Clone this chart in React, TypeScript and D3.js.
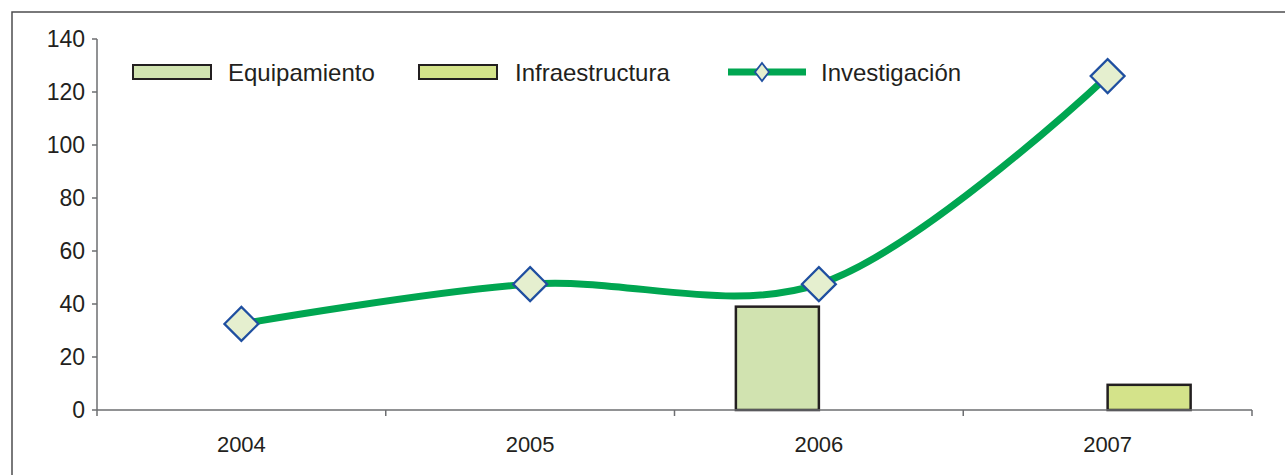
import React from "react";
import * as d3 from "d3";

const years = ["2004", "2005", "2006", "2007"];
const equipamiento: (number | null)[] = [null, null, 39, null];
const infraestructura: (number | null)[] = [null, null, null, 9.5];
const investigacion = [32.5, 47.5, 47.5, 126];
const yTicks = [0, 20, 40, 60, 80, 100, 120, 140];
const seriesNames = ["Equipamiento", "Infraestructura", "Investigación"];

const W = 1285;
const H = 475;
const FONT = "'Liberation Sans', Arial, Helvetica, sans-serif";
const AXIS = "#6d6e71";
const GREEN = "#00a651";
const BLUE = "#1f4fa0";
const EQ_FILL = "#d1e3b0";
const INF_FILL = "#d4e38a";
const DIAMOND_FILL = "#e5efcf";

export default function App() {
  const x = d3.scaleBand<string>().domain(years).range([97, 1252]).padding(0);
  const y = d3.scaleLinear().domain([0, 140]).range([410, 39]);
  const sub = d3
    .scaleBand<string>()
    .domain(["Equipamiento", "Infraestructura"])
    .range([-83, 83]);

  const cx = (yr: string) => (x(yr) as number) + x.bandwidth() / 2;

  const line = d3
    .line<number>()
    .x((_, i) => cx(years[i]))
    .y((d) => y(d))
    .curve(d3.curveCatmullRom.alpha(0.5));

  const diamond = (px: number, py: number, rx: number, ry: number) =>
    `M${px},${py - ry}L${px + rx},${py}L${px},${py + ry}L${px - rx},${py}Z`;

  const bars: { key: string; yr: string; v: number; fill: string }[] = [];
  years.forEach((yr, i) => {
    const e = equipamiento[i];
    if (e != null) bars.push({ key: "Equipamiento", yr, v: e, fill: EQ_FILL });
    const f = infraestructura[i];
    if (f != null) bars.push({ key: "Infraestructura", yr, v: f, fill: INF_FILL });
  });

  const boundaries = years.map((yr) => x(yr) as number).concat([1252]);

  return (
    <svg
      width={W}
      height={H}
      style={{ position: "absolute", left: 0, top: 0, background: "#fff" }}
      fontFamily={FONT}
    >
      {/* frame */}
      <path d={`M12,${H}L12,12L${W},12`} fill="none" stroke="#4d4d4f" strokeWidth={1.5} />

      {/* bars */}
      {bars.map((b, i) => {
        const bx = cx(b.yr) + (sub(b.key) as number);
        return (
          <rect
            key={i}
            x={bx}
            y={y(b.v)}
            width={sub.bandwidth()}
            height={y(0) - y(b.v)}
            fill={b.fill}
            stroke="#231f20"
            strokeWidth={2.5}
          />
        );
      })}

      {/* axes */}
      <line x1={97} x2={97} y1={y(140)} y2={416} stroke={AXIS} strokeWidth={1.5} />
      {yTicks.map((t) => (
        <g key={t}>
          <line x1={92} x2={97} y1={y(t)} y2={y(t)} stroke={AXIS} strokeWidth={1.5} />
          <text
            x={85}
            y={y(t)}
            dy="0.35em"
            textAnchor="end"
            fontSize={23}
            fill="#231f20"
          >
            {t}
          </text>
        </g>
      ))}
      <line x1={97} x2={1252} y1={y(0)} y2={y(0)} stroke={AXIS} strokeWidth={1.5} />
      {boundaries.slice(1).map((bx, i) => (
        <line key={i} x1={bx} x2={bx} y1={y(0)} y2={416} stroke={AXIS} strokeWidth={1.5} />
      ))}
      {years.map((yr) => (
        <text
          key={yr}
          x={cx(yr)}
          y={452}
          textAnchor="middle"
          fontSize={22}
          fill="#231f20"
        >
          {yr}
        </text>
      ))}

      {/* line */}
      <path d={line(investigacion) || ""} fill="none" stroke={GREEN} strokeWidth={7} />
      {investigacion.map((v, i) => (
        <path
          key={i}
          d={diamond(cx(years[i]), y(v), 17, 17)}
          fill={DIAMOND_FILL}
          stroke={BLUE}
          strokeWidth={2.2}
        />
      ))}

      {/* legend */}
      <g>
        <rect x={133} y={65} width={78} height={14} fill={EQ_FILL} stroke="#231f20" strokeWidth={2} />
        <text x={228} y={81} fontSize={24} fill="#231f20">
          {seriesNames[0]}
        </text>
        <rect x={419} y={65} width={78} height={14} fill={INF_FILL} stroke="#231f20" strokeWidth={2} />
        <text x={515} y={81} fontSize={24} fill="#231f20">
          {seriesNames[1]}
        </text>
        <line x1={728} x2={806} y1={72} y2={72} stroke={GREEN} strokeWidth={7} />
        <path d={diamond(762, 72, 7, 9)} fill={DIAMOND_FILL} stroke={BLUE} strokeWidth={1.8} />
        <text x={821} y={81} fontSize={24} fill="#231f20">
          {seriesNames[2]}
        </text>
      </g>
    </svg>
  );
}
